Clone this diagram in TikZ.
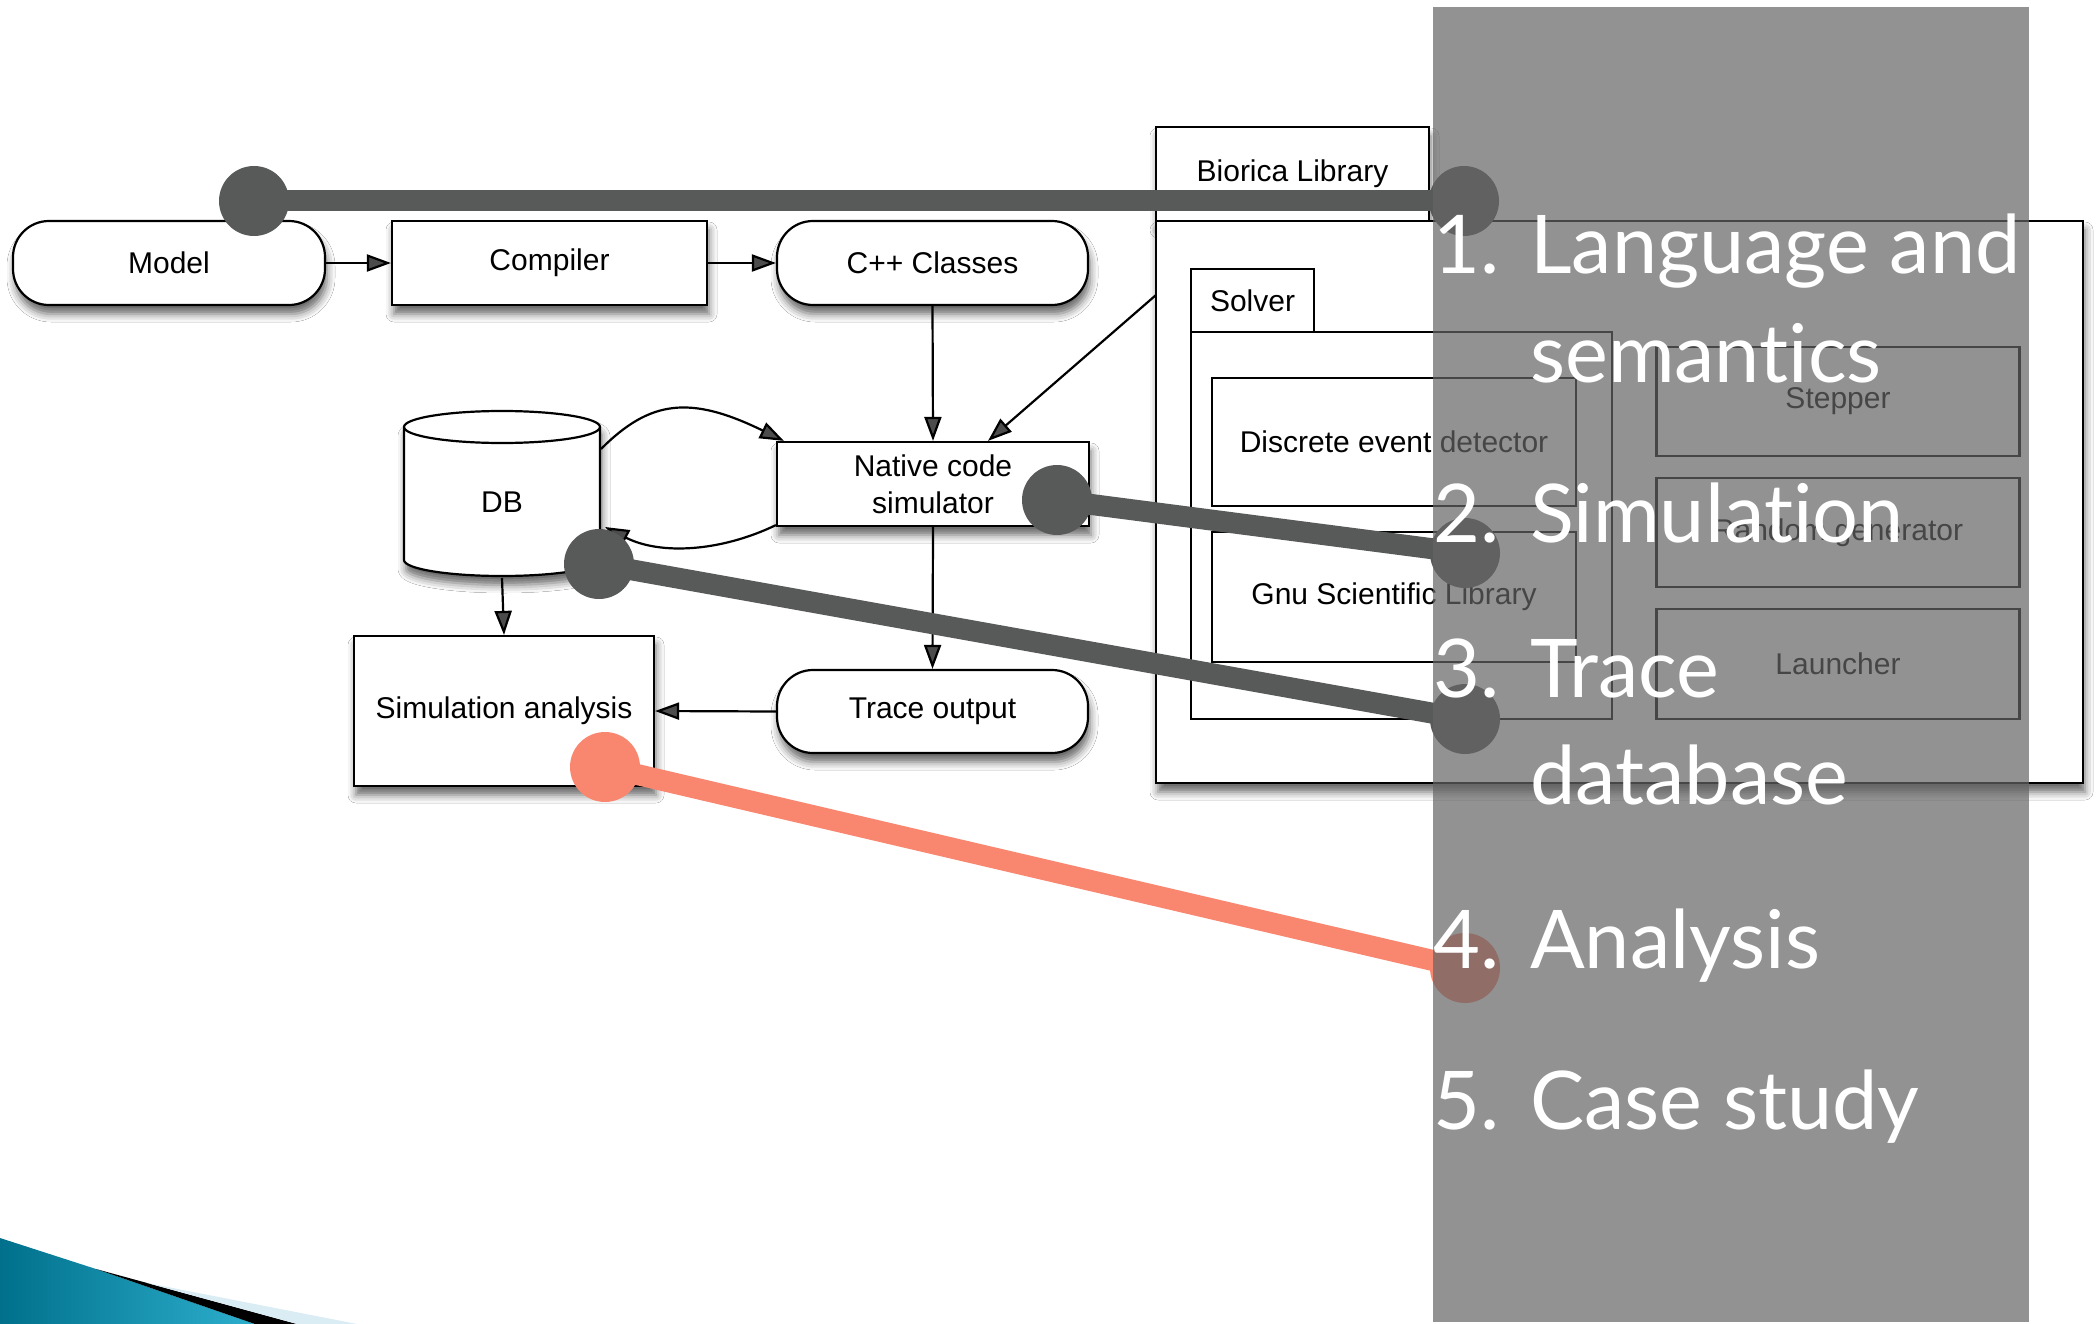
\documentclass[tikz,border=0pt]{standalone}
\usepackage{fontspec}
\setmainfont{Liberation Sans}
\newfontfamily\listfont[Ligatures={NoCommon,NoDiscretionary,NoRare}]{Lato}
\usetikzlibrary{arrows.meta,calc,shadows.blur}

\definecolor{ptrgray}{RGB}{87,90,89}
\definecolor{salmon}{RGB}{249,135,112}
\definecolor{panelgray}{RGB}{100,100,100}
\definecolor{tealdark}{RGB}{0,112,140}
\definecolor{teallight}{RGB}{45,175,205}
\definecolor{paleblue}{RGB}{218,236,244}

\tikzset{
  box/.style={draw=black, line width=2.2pt, fill=white, inner sep=0pt,
    font=\fontsize{30}{37}\selectfont, align=center},
  shad/.style={blur shadow={shadow xshift=2pt, shadow yshift=-9pt,
    shadow blur radius=8pt, shadow opacity=60}},
  pill/.style={box, rounded corners=36pt},
  flow/.style={line width=2.2pt, -{Triangle[length=24pt,width=17pt]}},
  pointer/.style={line width=21pt, draw=#1},
  dot/.style={circle, fill=#1, minimum size=70pt, inner sep=0pt},
  itemtxt/.style={text=white, inner sep=0pt, font=\listfont\fontsize{81}{90}\selectfont},
}

\begin{document}
\begin{tikzpicture}[x=1pt,y=-1pt]
\useasboundingbox (0,0) rectangle (2100,1324);
\fill[white] (0,0) rectangle (2100,1324);

% ---- compilation chain ----
\node[pill,shad,minimum width=312pt,minimum height=84pt] (model) at (169,263) {Model};
\node[box,shad,minimum width=315pt,minimum height=84pt] (compiler) at (549.5,263) {Compiler};
\node[pill,shad,minimum width=311pt,minimum height=84pt] (cpp) at (932.5,263) {C++ Classes};

% ---- simulation ----
\node[box,shad,minimum width=312pt,minimum height=84pt] (native) at (933,484) {Native code\\simulator};
\node[pill,shad,minimum width=311pt,minimum height=83pt] (trace) at (932.5,711.5) {Trace output};
\node[box,shad,minimum width=300pt,minimum height=150pt] (anal) at (504,711) {Simulation analysis};

% ---- database cylinder ----
\path[draw=black, line width=2.2pt, fill=white, shad]
  (404,427) -- (404,560) arc[start angle=180, end angle=0, x radius=98, y radius=16]
  -- (600,427) arc[start angle=0, end angle=-180, x radius=98, y radius=16] -- cycle;
\draw[line width=2.2pt] (404,427) arc[start angle=180, end angle=0, x radius=98, y radius=16];
\node[font=\fontsize{30}{37}\selectfont] (db) at (502,502) {DB};
\coordinate (dbbot) at (502,578);
\coordinate (dbout) at (601,449);
\coordinate (dbin) at (605,527);

% ---- Biorica library ----
\node[box,shad,minimum width=273pt,minimum height=94pt] (libtab) at (1292.5,174) {Biorica Library};
\node[box,shad,minimum width=927pt,minimum height=562pt] (lib) at (1619.5,502) {};
\node[box,minimum width=123pt,minimum height=63pt] (solvertab) at (1252.5,300.5) {Solver};
\node[box,minimum width=421pt,minimum height=387pt] (solver) at (1401.5,525.5) {};
\node[box,minimum width=364pt,minimum height=128pt] (ded) at (1394,442) {Discrete event detector};
\node[box,minimum width=364pt,minimum height=130pt] (gsl) at (1394,597) {Gnu Scientific Library};
\node[box,minimum width=363pt,minimum height=109pt] (stepper) at (1838,401.5) {Stepper};
\node[box,minimum width=363pt,minimum height=109pt] (random) at (1838,532.5) {Random generator};
\node[box,minimum width=363pt,minimum height=110pt] (launcher) at (1838,664) {Launcher};
\coordinate (libport) at (1156,295);

% ---- data flow ----
\draw[flow] (model.east) -- (compiler.west);
\draw[flow] (compiler.east) -- (cpp.west);
\draw[flow] (cpp.south) -- (native.north);
\draw[flow] (libport) -- ($(native.north)+(55,0)$);
\draw[flow] (dbout) .. controls (650,400) and (690,395) .. ($(native.north west)+(8,0)$);
\draw[flow] ($(native.south west)+(0,-2)$) .. controls (720,552) and (660,555) .. (dbin);
\draw[flow] (dbbot) -- (anal.north);
\draw[flow] (native.south) -- (trace.north);
\draw[flow] (trace.west) -- (anal.east);

% ---- pointers from the outline ----
\coordinate (p1a) at (254,201);  \coordinate (p1b) at (1464,201);
\coordinate (p2a) at (1057,500); \coordinate (p2b) at (1465,553);
\coordinate (p3a) at (599,564);  \coordinate (p3b) at (1465,719);
\coordinate (p4a) at (605,767);  \coordinate (p4b) at (1465,968);
\draw[pointer=ptrgray] (p1a) -- (p1b);
\draw[pointer=ptrgray] (p2a) -- (p2b);
\draw[pointer=ptrgray] (p3a) -- (p3b);
\draw[pointer=salmon] (p4a) -- (p4b);
\foreach \p in {p1a,p1b,p2a,p2b,p3a,p3b}
  \node[dot=ptrgray] at (\p) {};
\node[dot=salmon] (d4a) at (p4a) {};
\node[dot=salmon] (d4b) at (p4b) {};

% ---- outline panel ----
\fill[panelgray, fill opacity=0.7] (1433,7) rectangle (2029,1322);
\node[itemtxt, anchor=base east] (n1) at (1500,273) {1.};
\node[itemtxt, anchor=base west] (t1) at (1530,273) {Language and};
\node[itemtxt, anchor=base west] (t1b) at (1530,382) {semantics};
\node[itemtxt, anchor=base east] (n2) at (1500,542) {2.};
\node[itemtxt, anchor=base west] (t2) at (1530,542) {Simulation};
\node[itemtxt, anchor=base east] (n3) at (1500,697) {3.};
\node[itemtxt, anchor=base west] (t3) at (1530,697) {Trace};
\node[itemtxt, anchor=base west] (t3b) at (1530,804) {database};
\node[itemtxt, anchor=base east] (n4) at (1500,968) {4.};
\node[itemtxt, anchor=base west] (t4) at (1530,968) {Analysis};
\node[itemtxt, anchor=base east] (n5) at (1500,1129) {5.};
\node[itemtxt, anchor=base west] (t5) at (1530,1129) {Case study};

% ---- corner swoosh ----
\shade[left color=tealdark, right color=teallight]
  (0,1238) -- (96,1269) -- (255,1324) -- (0,1324) -- cycle;
\fill[black] (96,1269) -- (297,1324) -- (255,1324) -- cycle;
\fill[paleblue] (147,1283) -- (357,1324) -- (297,1324) -- cycle;
\end{tikzpicture}
\end{document}
